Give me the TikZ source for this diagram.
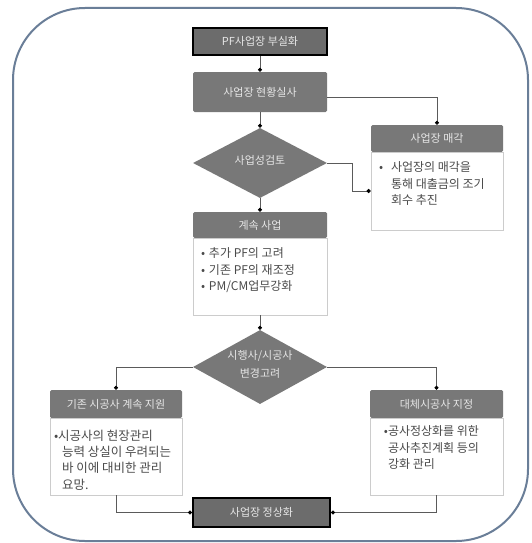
\documentclass[tikz,border=0pt]{standalone}
\usepackage{fontspec}
\setmainfont{Noto Sans CJK KR}
\usetikzlibrary{arrows.meta,shapes.geometric}
\definecolor{frameblue}{HTML}{6A7E98}
\definecolor{hdr}{HTML}{787878}
\definecolor{termfill}{HTML}{6C6C6C}
\definecolor{hdrtext}{HTML}{E6E6E6}
\definecolor{bodytext}{HTML}{4A4A4A}
\definecolor{bodyline}{HTML}{CCCCCC}
\definecolor{conncol}{HTML}{5A5A5A}
\newcommand\zctext[1]{\smash{\makebox[0pt]{$\vcenter{\hbox{#1}}$}}}
\newcommand\bline[2]{\noindent\hspace*{#1}#2\par}
\begin{document}
\begin{tikzpicture}[x=1pt,y=-1pt,
  hdrbox/.style={fill=hdr, text=hdrtext, font=\fontsize{11}{13}\selectfont, inner sep=0pt, rounded corners=1.5pt},
  termbox/.style={fill=termfill, draw=black, line width=2pt, text=hdrtext, font=\fontsize{11}{13}\selectfont, inner sep=0pt},
  bodybox/.style={draw=bodyline, line width=0.8pt, fill=white, text=bodytext, inner ysep=0pt, font=\fontsize{12}{16.5}\selectfont},
  decbox/.style={diamond, fill=hdr, text=hdrtext, inner sep=0pt, minimum width=134pt, font=\fontsize{11}{13}\selectfont},
  conn/.style={draw=conncol, line width=0.8pt, -{Circle[length=4pt,color=black]}}
]
\useasboundingbox (0,0) rectangle (531,543);
\fill[white] (0,0) rectangle (531,543);
\draw[frameblue, line width=2pt, rounded corners=72pt] (13,8) rectangle (528,541);

\node[termbox, minimum width=134pt, minimum height=27pt] (start) at (260,41.5) {PF사업장 부실화};
\node[hdrbox, minimum width=134pt, minimum height=40pt] (survey) at (260,92) {사업장 현황실사};
\node[decbox, minimum height=70pt] (dec1) at (260,163) {\zctext{사업성검토}};

\node[hdrbox, minimum width=132pt, minimum height=27pt] (salehead) at (437,138.5) {사업장 매각};
\node[bodybox, inner xsep=8pt] (salebody) at (437,191)
  {\parbox[c][78pt][t]{116pt}{\vspace*{10pt}%
   \noindent\makebox[12pt][l]{•}사업장의 매각을\par
   \bline{12pt}{통해 대출금의 조기}%
   \bline{12pt}{회수 추진}}};

\node[hdrbox, minimum width=134pt, minimum height=26pt] (conthead) at (260,225) {계속 사업};
\node[bodybox, inner xsep=8pt] (contbody) at (260,276.5)
  {\parbox[c][77pt][t]{118pt}{\vspace*{10pt}%
   \noindent\makebox[8pt][l]{•}추가 PF의 고려\par
   \noindent\makebox[8pt][l]{•}기존 PF의 재조정\par
   \noindent\makebox[8pt][l]{•}PM/CM업무강화\par}};

\node[decbox, minimum height=74pt] (dec2) at (260,367)
  {\zctext{\shortstack{시행사/시공사\\[4pt]변경고려}}};

\node[hdrbox, minimum width=132pt, minimum height=28pt] (lhead) at (116,404) {기존 시공사 계속 지원};
\node[bodybox, inner xsep=4pt, font=\fontsize{12.5}{16.3}\selectfont] (lbody) at (116,456.5)
  {\parbox[c][77pt][t]{124pt}{\vspace*{12pt}%
   \noindent\makebox[4pt][l]{•}시공사의 현장관리\par
   \bline{8pt}{능력 상실이 우려되는}%
   \bline{8pt}{바 이에 대비한 관리}%
   \bline{8pt}{요망.}}};

\node[hdrbox, minimum width=133pt, minimum height=28pt] (rhead) at (436.5,404) {대체시공사 지정};
\node[bodybox, inner xsep=5pt] (rbody) at (436.5,456.5)
  {\parbox[c][77pt][t]{123pt}{\vspace*{8pt}%
   \bline{13pt}{\makebox[0pt][r]{•}공사정상화를 위한}%
   \bline{13pt}{공사추진계획 등의}%
   \bline{13pt}{강화 관리}}};

\node[termbox, minimum width=137pt, minimum height=29pt] (end) at (261.5,512.5) {사업장 정상화};

\draw[conn] (start.south) -- (survey.north);
\draw[conn] (survey.south) -- (dec1.north);
\draw[conn] ([yshift=-5pt]survey.east) -| (salehead.north);
\draw[conn] (dec1.east) -- ++(25,0) |- (salebody.west);
\draw[conn] (dec1.south) -- (conthead.north);
\draw[conn] (contbody.south) -- (dec2.north);
\draw[conn] (dec2.west) -| (lhead.north);
\draw[conn] (dec2.east) -| (rhead.north);
\draw[conn] (lbody.south) |- (end.west);
\draw[conn] (rbody.south) |- (end.east);
\end{tikzpicture}
\end{document}
